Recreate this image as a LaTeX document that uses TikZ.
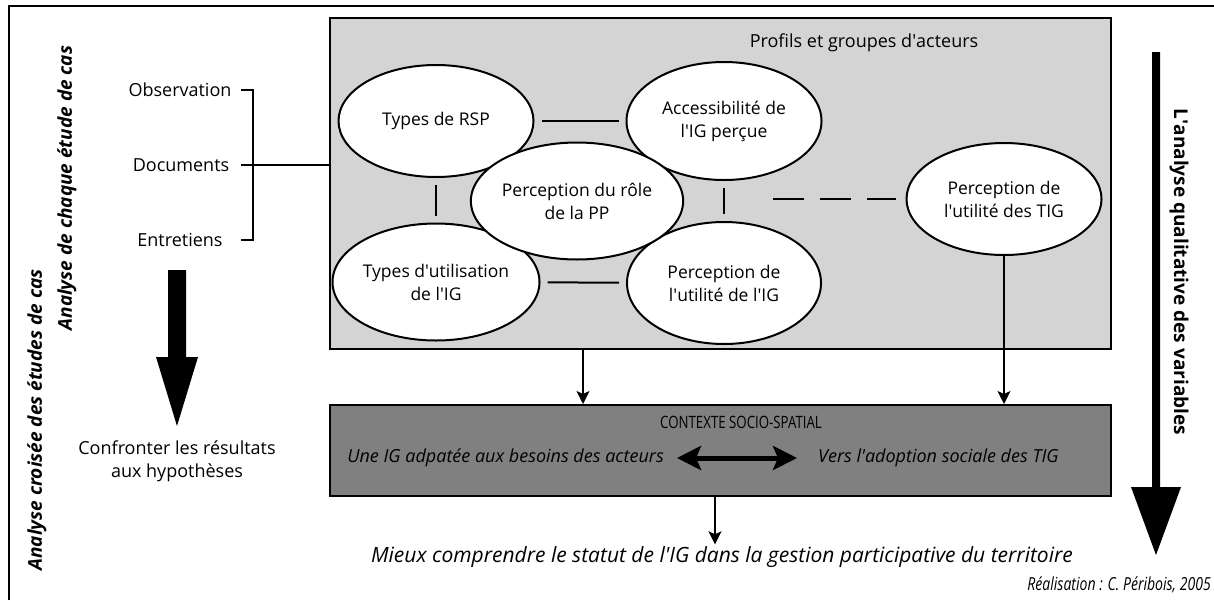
\documentclass[tikz,border=0pt]{standalone}
\usepackage{fontspec}
\setmainfont{Open Sans}
\newfontfamily\serre[FakeStretch=0.78]{Open Sans}
\usetikzlibrary{shapes,arrows.meta,calc}
\newcommand{\apo}{\textquotesingle}

\begin{document}
\begin{tikzpicture}[x=1pt,y=-1pt,
    bulle/.style={ellipse,draw,line width=2pt,fill=white,inner sep=0pt,
        align=center,font=\fontsize{17.5}{23}\selectfont},
    lien/.style={line width=2pt,shorten <=7pt,shorten >=7pt},
    fleche/.style={line width=1.5pt,-{Stealth[length=13pt,width=13pt,inset=3pt]}},
    texte/.style={font=\fontsize{18}{23}\selectfont,align=center,inner sep=0pt}]
    \useasboundingbox (0,0) rectangle (1214,600);
    \draw[line width=2pt] (9,600) -- (9,6) -- (1214,6);

    % cadre des profils
    \node (cadre) [draw,line width=2pt,fill=black!17,minimum width=781pt,
        minimum height=331pt,inner sep=0pt] at (720.5,183.5) {};
    \node[texte] at (864,43) {Profils et groupes d\apo acteurs};

    \node (rsp) [bulle,minimum width=195pt,minimum height=112pt] at (436,121) {Types de RSP};
    \node (acc) [bulle,minimum width=195pt,minimum height=118pt] at (724,121) {Accessibilité de\\l\apo IG perçue};
    \node (util) [bulle,minimum width=196pt,minimum height=117pt] at (436,282) {Types d\apo utilisation\\de l\apo IG};
    \node (utilig) [bulle,minimum width=194pt,minimum height=122pt] at (724,283) {Perception de\\l\apo utilité de l\apo IG};
    \node (role) [bulle,minimum width=193pt,minimum height=117pt] at (577,201) {Perception du rôle\\de la PP};
    \node (utiltig) [bulle,minimum width=195pt,minimum height=112pt] at (1004,199) {Perception de\\l\apo utilité des TIG};

    \draw[lien] (rsp) -- (acc);
    \draw[lien] (util) -- (utilig);
    \draw[lien] (rsp) -- (util);
    \draw[lien] (acc) -- (utilig);
    \coordinate (tiret) at (773,199);
    \draw[lien,shorten <=0pt,shorten >=10pt,dash pattern=on 31pt off 16pt] (tiret) -- (utiltig);

    % contexte
    \node (contexte) [draw,line width=2pt,fill=black!50,minimum width=781pt,
        minimum height=91pt,inner sep=0pt] at (720.5,450.5) {};
    \node[font=\serre\fontsize{17}{20}\selectfont] at (741,422) {CONTEXTE SOCIO-SPATIAL};
    \node (ig) [anchor=east,inner sep=0pt,font=\itshape\fontsize{18}{22}\selectfont] at (664,458) {Une IG adpatée aux besoins des acteurs};
    \node (adop) [anchor=west,inner sep=0pt,font=\itshape\fontsize{18}{22}\selectfont] at (818,458) {Vers l\apo adoption sociale des TIG};
    \draw[line width=5pt,{Stealth[length=24pt,width=24pt,inset=5pt]}-{Stealth[length=24pt,width=24pt,inset=5pt]},
        shorten <=13pt,shorten >=21pt] (ig) -- (adop);

    \coordinate (chute) at (583,349);
    \draw[fleche] (chute) -- (chute |- contexte.north);
    \draw[fleche] (utiltig) -- (utiltig |- contexte.north);

    \node (mieux) [inner sep=2pt,font=\itshape\fontsize{21}{24}\selectfont] at (722,557)
        {Mieux comprendre le statut de l\apo IG dans la gestion participative du territoire};
    \coordinate (sortie) at (715,496);
    \draw[fleche] (sortie) -- (sortie |- mieux.north);

    \node[anchor=east,inner sep=0pt,font=\serre\itshape\fontsize{18}{20}\selectfont] at (1211,585)
        {Réalisation : C. Péribois, 2005};

    % analyse de chaque cas
    \node (obs) [texte] at (180,90) {Observation};
    \node (doc) [texte] at (181,165) {Documents};
    \node (ent) [texte] at (180,240) {Entretiens};
    \coordinate (tic) at (241,0);
    \coordinate (crochet) at (253,0);
    \draw[line width=2pt] (obs -| tic) -- (obs -| crochet) -- (ent -| crochet) -- (ent -| tic);
    \draw[line width=2pt] (doc -| tic) -- (doc -| cadre.west);

    \fill (168,270) -- (186,270) -- (186,357) -- (198,357) -- (177,426) -- (156,357) -- (168,357) -- cycle;
    \node[texte] at (177,461) {Confronter les résultats\\aux hypothèses};

    \node[rotate=90,font=\bfseries\itshape\fontsize{19}{21}\selectfont] at (67,188) {Analyse de chaque étude de cas};
    \node[rotate=90,font=\bfseries\itshape\fontsize{19}{21}\selectfont] at (37,420) {Analyse croisée des études de cas};

    % analyse des variables
    \fill (1152,52) -- (1160,52) -- (1160,487) -- (1181,487) -- (1156,555) -- (1131,487) -- (1152,487) -- cycle;
    \node[rotate=-90,font=\bfseries\fontsize{19}{21}\selectfont] at (1179,272) {L\apo analyse qualitative des variables};
\end{tikzpicture}
\end{document}
